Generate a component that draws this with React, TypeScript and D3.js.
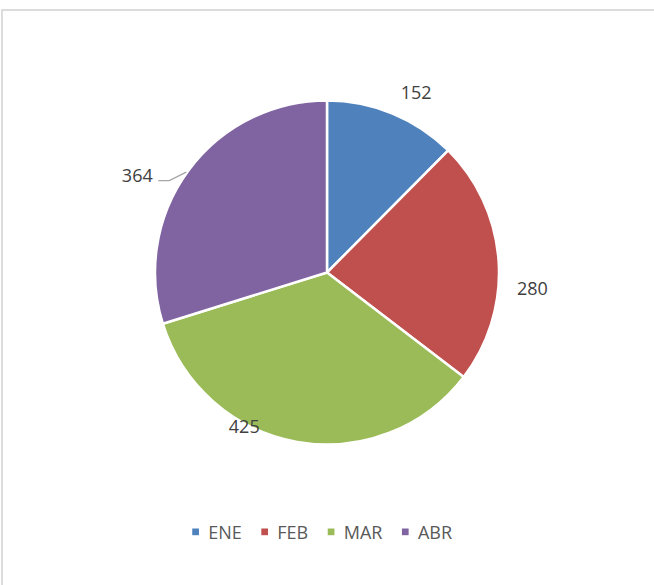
import React, { useLayoutEffect, useRef, useState } from "react";
import * as d3 from "d3";

const categories = ["ENE", "FEB", "MAR", "ABR"];
const values = [152, 280, 425, 364];
const colors = ["#4f81bd", "#c0504d", "#9bbb59", "#8064a2"];

// label placement (angle offset in degrees from slice mid, radius)
const labelLayout = [
  { dAngle: 3.9, r: 201 },
  { dAngle: 8.4, r: 206 },
  { dAngle: 18.2, r: 175 },
  { dAngle: -9.3, r: 213 },
];

const W = 654;
const H = 585;
const cx = 327;
const cy = 272.5;
const R = 172;
const FONT = "'Open Sans', sans-serif";
const FS = 18;

export default function App() {
  const pie = d3.pie<number>().sort(null).value((d) => d)(values);
  const arc = d3.arc<d3.PieArcDatum<number>>().innerRadius(0).outerRadius(R);
  const legendRefs = useRef<(SVGTextElement | null)[]>([]);
  const [widths, setWidths] = useState<number[]>([31, 29, 39, 34]);

  useLayoutEffect(() => {
    const w = legendRefs.current.map((t) => (t ? t.getComputedTextLength() : 0));
    setWidths(w);
  }, []);

  const sq = 6.7;
  const gapText = 9.3;
  const gapItem = 19.5;
  let x = 0;
  const raw = categories.map((c, i) => {
    const item = { x, c, i };
    x += sq + gapText + widths[i] + gapItem;
    return item;
  });
  const total = x - gapItem;
  const startX = 196 + 252.3 / 2 - total / 2;
  const legendItems = raw.map((it) => ({ ...it, x: it.x + startX }));

  return (
    <div style={{ position: "fixed", left: 0, top: 0 }}>
      <svg width={W} height={H} style={{ display: "block", background: "#fff" }}>
        <rect x={2} y={10} width={800} height={800} fill="#fff" stroke="#d9d9d9" strokeWidth={1.8} />
        <g transform={`translate(${cx},${cy})`}>
          {pie.map((p, i) => (
            <path key={i} d={arc(p) || ""} fill={colors[i]} stroke="#fff" strokeWidth={2.5} strokeLinejoin="round" />
          ))}
          {pie.map((p, i) => {
            const mid = (p.startAngle + p.endAngle) / 2 + (labelLayout[i].dAngle * Math.PI) / 180;
            const r = labelLayout[i].r;
            const lx = Math.sin(mid) * r;
            const ly = -Math.cos(mid) * r;
            return (
              <text
                key={"l" + i}
                x={lx}
                y={ly}
                dy="0.35em"
                textAnchor="middle"
                fontFamily={FONT}
                fontSize={FS}
                fill="#404040"
              >
                {values[i]}
              </text>
            );
          })}
          {(() => {
            const p = pie[3];
            const mid = (p.startAngle + p.endAngle) / 2 + (labelLayout[3].dAngle * Math.PI) / 180;
            const r = labelLayout[3].r;
            const lx = Math.sin(mid) * r;
            const ly = -Math.cos(mid) * r;
            const x0 = lx + 21;
            const y0 = ly + 5;
            const x1 = x0 + 11;
            const x2 = x1 + 17;
            const y2 = y0 - 8.5;
            return <polyline points={`${x0},${y0} ${x1},${y0} ${x2},${y2}`} fill="none" stroke="#a6a6a6" strokeWidth={1.4} />;
          })()}
        </g>
        <g>
          {legendItems.map((it) => (
            <g key={it.c}>
              <rect x={it.x} y={528.5} width={sq} height={sq} fill={colors[it.i]} />
              <text
                ref={(el) => {
                  legendRefs.current[it.i] = el;
                }}
                x={it.x + sq + gapText}
                y={539}
                fontFamily={FONT}
                fontSize={FS}
                fill="#595959"
              >
                {it.c}
              </text>
            </g>
          ))}
        </g>
      </svg>
    </div>
  );
}
